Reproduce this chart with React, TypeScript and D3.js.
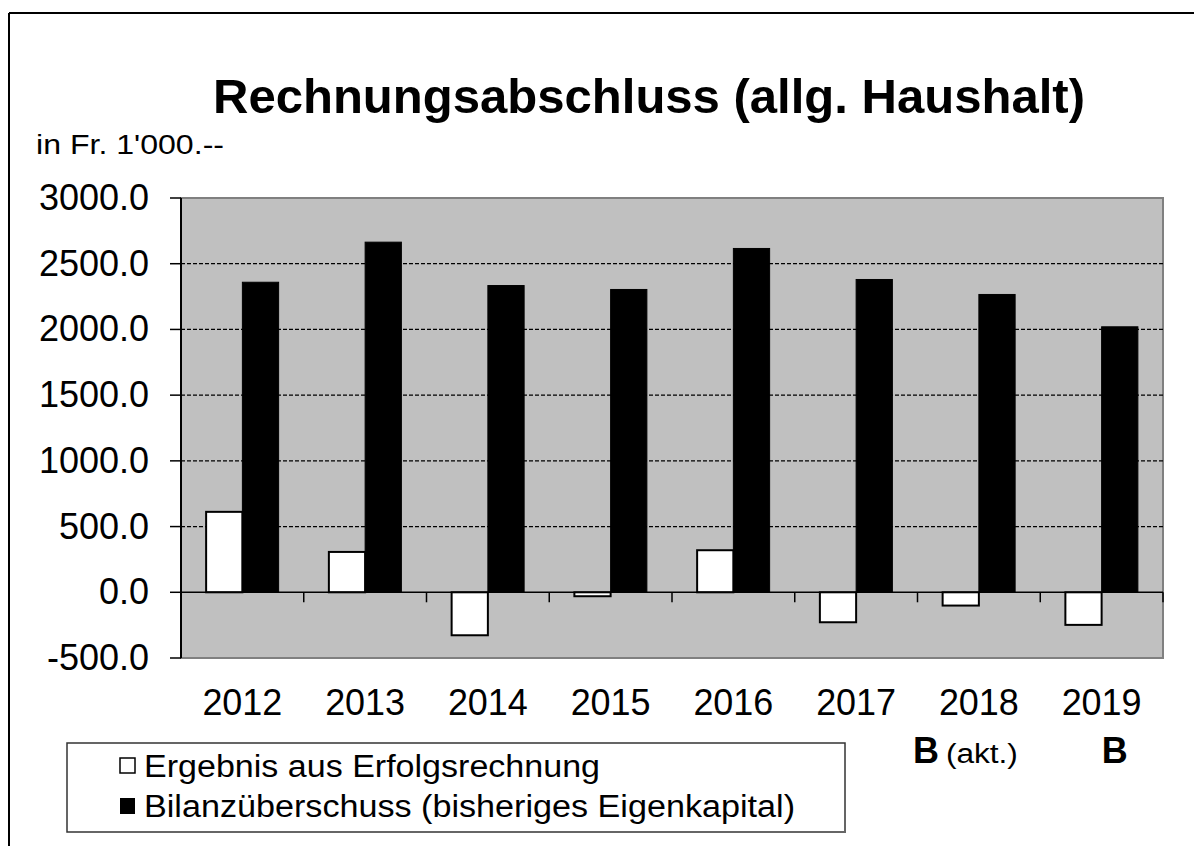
import React from "react";
import * as d3 from "d3";

const years = ["2012", "2013", "2014", "2015", "2016", "2017", "2018", "2019"];
const ergebnis = [612, 307, -327, -30, 320, -228, -101, -248];
const bilanz = [2359, 2664, 2334, 2304, 2616, 2380, 2266, 2020];
const yTicks = [-500, 0, 500, 1000, 1500, 2000, 2500, 3000];
const seriesNames = ["Ergebnis aus Erfolgsrechnung", "Bilanzüberschuss (bisheriges Eigenkapital)"];

const W = 1194;
const H = 846;
const FONT = "'Liberation Sans', Arial, sans-serif";

export default function App() {
  const left = 181, right = 1163, top = 198, bottom = 658;
  const x = d3.scaleBand<string>().domain(years).range([left, right]).padding(0);
  const y = d3.scaleLinear().domain([-500, 3000]).range([bottom, top]);
  const groupW = 72.5;
  const x1 = d3.scaleBand<number>().domain([0, 1]).range([0, groupW]).padding(0);
  const bw = x1.bandwidth();
  const y0 = y(0);

  return (
    <svg width={W} height={H} style={{ position: "absolute", left: 0, top: 0, background: "#fff" }} fontFamily={FONT}>
      {/* outer frame */}
      <line x1={9} y1={13} x2={W} y2={13} stroke="#000" strokeWidth={2} />
      <line x1={9} y1={13} x2={9} y2={H} stroke="#000" strokeWidth={2} />

      {/* title */}
      <text x={649} y={113} textAnchor="middle" fontSize={48} fontWeight="bold" textLength={872} lengthAdjust="spacingAndGlyphs">
        Rechnungsabschluss (allg. Haushalt)
      </text>
      <text x={36} y={154} fontSize={28} textLength={188} lengthAdjust="spacingAndGlyphs">in Fr. 1'000.--</text>

      {/* plot area */}
      <rect x={left} y={top} width={right - left} height={bottom - top} fill="#c0c0c0" stroke="#808080" strokeWidth={2} />
      {yTicks.filter(t => t !== 0 && t !== 3000 && t !== -500).map(t => (
        <line key={t} x1={left} x2={right} y1={y(t)} y2={y(t)} stroke="#000" strokeWidth={1.2} strokeDasharray="4,2" />
      ))}

      {/* y axis */}
      <line x1={left} x2={left} y1={top} y2={bottom} stroke="#000" strokeWidth={2} />
      {yTicks.map(t => (
        <g key={t}>
          <line x1={170} x2={left} y1={y(t)} y2={y(t)} stroke="#000" strokeWidth={1.5} />
          <text x={149} y={y(t) + 12} textAnchor="end" fontSize={36}>
            {t.toFixed(1)}
          </text>
        </g>
      ))}

      {/* bars */}
      {years.map((yr, i) => {
        const cx = (x(yr) as number) + x.bandwidth() / 2 - groupW / 2;
        const v1 = ergebnis[i];
        const v2 = bilanz[i];
        return (
          <g key={yr}>
            <rect x={cx + (x1(0) as number)} y={Math.min(y(v1), y0)} width={bw} height={Math.abs(y(v1) - y0)} fill="#fff" stroke="#000" strokeWidth={2} />
            <rect x={cx + (x1(1) as number)} y={Math.min(y(v2), y0)} width={bw} height={Math.abs(y(v2) - y0)} fill="#000" stroke="#000" strokeWidth={1} />
          </g>
        );
      })}

      {/* zero line + category ticks */}
      <line x1={left} x2={right} y1={y0} y2={y0} stroke="#000" strokeWidth={1.5} />
      {years.map((yr) => (
        <line key={yr} x1={(x(yr) as number) + x.bandwidth()} x2={(x(yr) as number) + x.bandwidth()} y1={y0} y2={y0 + 10} stroke="#000" strokeWidth={1.5} />
      ))}

      {/* x labels */}
      {years.map(yr => (
        <text key={yr} x={(x(yr) as number) + x.bandwidth() / 2} y={715} textAnchor="middle" fontSize={37} textLength={80} lengthAdjust="spacingAndGlyphs">
          {yr}
        </text>
      ))}
      <text x={(x("2018") as number) + x.bandwidth() / 2 - 66} y={763} fontSize={36} fontWeight="bold">B</text>
      <text x={(x("2018") as number) + x.bandwidth() / 2 - 33} y={763} fontSize={27} textLength={72} lengthAdjust="spacingAndGlyphs">(akt.)</text>
      <text x={(x("2019") as number) + x.bandwidth() / 2} y={763} fontSize={36} fontWeight="bold">B</text>

      {/* legend */}
      <rect x={67} y={743} width={778} height={89} fill="#fff" stroke="#333" strokeWidth={1.5} />
      <line x1={68} x2={846} y1={832} y2={832} stroke="#666" strokeWidth={2} />
      <rect x={120} y={758} width={15} height={15} fill="#fff" stroke="#000" strokeWidth={1.5} />
      <text x={144} y={777} fontSize={31} textLength={456} lengthAdjust="spacingAndGlyphs">{seriesNames[0]}</text>
      <rect x={120} y={798} width={15} height={16} fill="#000" />
      <text x={144} y={817} fontSize={31} textLength={651} lengthAdjust="spacingAndGlyphs">{seriesNames[1]}</text>
    </svg>
  );
}
